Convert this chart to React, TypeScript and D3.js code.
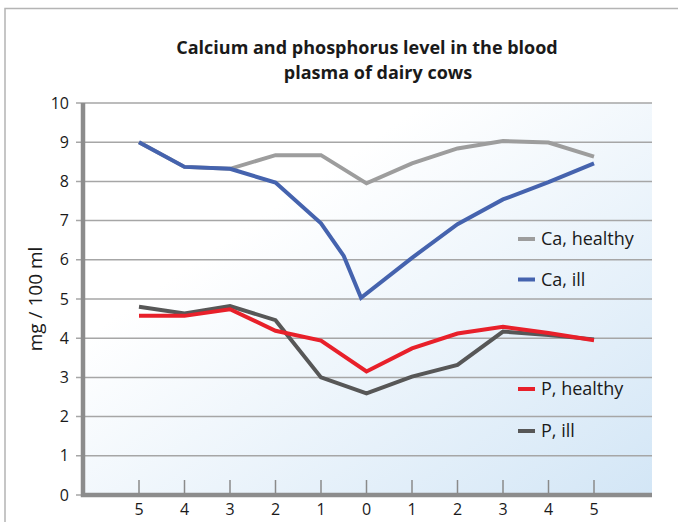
import React, { useRef, useEffect } from 'react';
import * as d3 from 'd3';

// days before (left) and after (right) calving, 0 = calving
const xTicks = [-5, -4, -3, -2, -1, 0, 1, 2, 3, 4, 5];
const xLabels = ['5', '4', '3', '2', '1', '0', '1', '2', '3', '4', '5'];
const yTicks = [0, 1, 2, 3, 4, 5, 6, 7, 8, 9, 10];

const caHealthyX = [-5, -4, -3, -2, -1, 0, 1, 2, 3, 4, 5];
const caHealthy = [9.0, 8.37, 8.32, 8.67, 8.67, 7.95, 8.46, 8.84, 9.03, 8.99, 8.63];

const caIllX = [-5, -4, -3, -2, -1, -0.5, -0.12, 1, 2, 3, 4, 5];
const caIll = [9.0, 8.37, 8.32, 7.97, 6.93, 6.1, 5.03, 6.05, 6.91, 7.54, 7.98, 8.46];

const pX = [-5, -4, -3, -2, -1, 0, 1, 2, 3, 4, 5];
const pHealthy = [4.57, 4.57, 4.74, 4.19, 3.94, 3.15, 3.74, 4.12, 4.29, 4.13, 3.95];
const pIll = [4.8, 4.63, 4.82, 4.46, 3.0, 2.59, 3.02, 3.32, 4.17, 4.08, 3.97];

const seriesNames = ['Ca, healthy', 'Ca, ill', 'P, healthy', 'P, ill'];
const seriesColors = ['#9d9d9d', '#4563ae', '#e8202a', '#575757'];

const App: React.FC = () => {
  const ref = useRef<SVGSVGElement | null>(null);

  useEffect(() => {
    if (!ref.current) return;
    const svg = d3.select(ref.current);
    svg.selectAll('*').remove();

    const font = "'Open Sans', 'Noto Sans', sans-serif";
    const plot = { left: 83, right: 652, top: 103, bottom: 495 };

    const x = d3.scaleLinear().domain([-5, 5]).range([139, 594]);
    const y = d3.scaleLinear().domain([0, 10]).range([plot.bottom, plot.top]);

    // outer frame (top and left edge only)
    svg.append('path')
      .attr('d', 'M5,522V8.5H678')
      .attr('fill', 'none')
      .attr('stroke', '#b4b4b4')
      .attr('stroke-width', 1.5);

    // background gradient
    const defs = svg.append('defs');
    const grad = defs.append('linearGradient')
      .attr('id', 'bg')
      .attr('x1', '0').attr('y1', '0').attr('x2', '1').attr('y2', '1');
    grad.append('stop').attr('offset', '0.3').attr('stop-color', '#ffffff');
    grad.append('stop').attr('offset', '1').attr('stop-color', '#d3e6f6');

    svg.append('rect')
      .attr('x', plot.left)
      .attr('y', plot.top)
      .attr('width', plot.right - plot.left)
      .attr('height', plot.bottom - plot.top)
      .attr('fill', 'url(#bg)');

    // title
    const title = svg.append('text')
      .attr('font-family', font)
      .attr('font-weight', 'bold')
      .attr('font-size', 18)
      .attr('fill', '#1a1a1a')
      .attr('text-anchor', 'middle');
    title.append('tspan').attr('x', 367).attr('y', 54).text('Calcium and phosphorus level in the blood');
    title.append('tspan').attr('x', 378).attr('y', 79).text('plasma of dairy cows');

    // gridlines + y ticks
    svg.append('g')
      .selectAll('line')
      .data(yTicks.filter(d => d > 0))
      .join('line')
      .attr('x1', 76)
      .attr('x2', plot.right)
      .attr('y1', d => y(d))
      .attr('y2', d => y(d))
      .attr('stroke', '#a6a6a6')
      .attr('stroke-width', 1.5);

    svg.append('line')
      .attr('x1', 76).attr('x2', plot.left)
      .attr('y1', y(0)).attr('y2', y(0))
      .attr('stroke', '#a6a6a6')
      .attr('stroke-width', 1.5);

    svg.append('g')
      .selectAll('text')
      .data(yTicks)
      .join('text')
      .attr('x', 69)
      .attr('y', d => y(d))
      .attr('dy', '0.35em')
      .attr('text-anchor', 'end')
      .attr('font-family', font)
      .attr('font-size', 16)
      .attr('fill', '#1a1a1a')
      .text(d => d);

    // y axis title
    svg.append('text')
      .attr('transform', `translate(42,${(plot.top + plot.bottom) / 2}) rotate(-90)`)
      .attr('text-anchor', 'middle')
      .attr('font-family', font)
      .attr('font-size', 19)
      .attr('fill', '#1a1a1a')
      .text('mg / 100 ml');

    // x ticks (pointing up into the plot)
    svg.append('g')
      .selectAll('line')
      .data(xTicks)
      .join('line')
      .attr('x1', d => x(d))
      .attr('x2', d => x(d))
      .attr('y1', plot.bottom - 15)
      .attr('y2', plot.bottom)
      .attr('stroke', '#8a8a8a')
      .attr('stroke-width', 1.5);

    svg.append('g')
      .selectAll('text')
      .data(xTicks)
      .join('text')
      .attr('x', d => x(d))
      .attr('y', 509)
      .attr('dy', '0.35em')
      .attr('text-anchor', 'middle')
      .attr('font-family', font)
      .attr('font-size', 16)
      .attr('fill', '#1a1a1a')
      .text((d, i) => xLabels[i]);

    // axes
    svg.append('path')
      .attr('d', `M${plot.left},${plot.top}V${plot.bottom}H${plot.right}`)
      .attr('fill', 'none')
      .attr('stroke', '#8c8c8c')
      .attr('stroke-width', 4.5);

    // lines
    const line = d3.line<[number, number]>()
      .x(d => x(d[0]))
      .y(d => y(d[1]));

    const series: { xs: number[]; ys: number[]; color: string }[] = [
      { xs: caHealthyX, ys: caHealthy, color: seriesColors[0] },
      { xs: caIllX, ys: caIll, color: seriesColors[1] },
      { xs: pX, ys: pIll, color: seriesColors[3] },
      { xs: pX, ys: pHealthy, color: seriesColors[2] },
    ];

    series.forEach(s => {
      svg.append('path')
        .datum(s.xs.map((v, i) => [v, s.ys[i]] as [number, number]))
        .attr('fill', 'none')
        .attr('stroke', s.color)
        .attr('stroke-width', 4)
        .attr('stroke-linejoin', 'miter')
        .attr('d', line);
    });

    // legend
    const legendY = [239, 279.5, 389, 431];
    const legend = svg.append('g')
      .selectAll('g')
      .data(seriesNames)
      .join('g')
      .attr('transform', (d, i) => `translate(518,${legendY[i]})`);

    legend.append('line')
      .attr('x1', 0).attr('x2', 17)
      .attr('stroke', (d, i) => seriesColors[i])
      .attr('stroke-width', 4);

    legend.append('text')
      .attr('x', 23)
      .attr('dy', '0.35em')
      .attr('font-family', font)
      .attr('font-size', 18)
      .attr('fill', '#1a1a1a')
      .text(d => d);
  }, []);

  return (
    <svg
      ref={ref}
      width={678}
      height={522}
      style={{ position: 'absolute', left: 0, top: 0, background: '#ffffff' }}
    />
  );
};

export default App;
